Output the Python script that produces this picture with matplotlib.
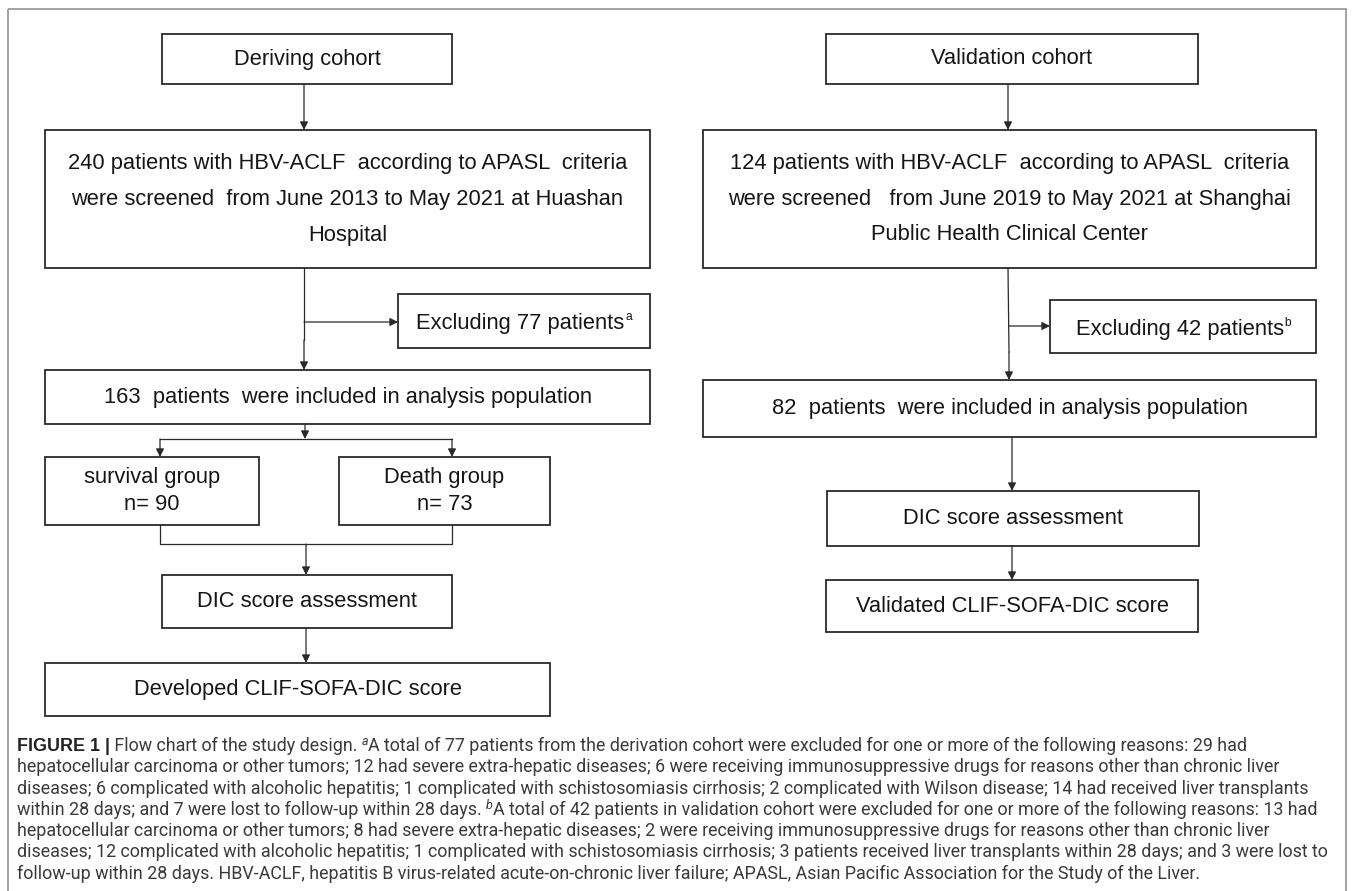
import matplotlib
matplotlib.use("Agg")
import matplotlib.pyplot as plt
from matplotlib.patches import Rectangle
from matplotlib import font_manager

W, H = 1357, 891

# ---- texts of the flow chart ----
deriving_title = "Deriving cohort"
deriving_screen = ["240 patients with HBV-ACLF  according to APASL  criteria",
                   "were screened  from June 2013 to May 2021 at Huashan",
                   "Hospital"]
deriving_excl = ("Excluding 77 patients", "a")
deriving_incl = "163  patients  were included in analysis population"
group_labels = ["survival group", "Death group"]
group_n = [90, 73]
dic_label = "DIC score assessment"
developed_label = "Developed CLIF-SOFA-DIC score"

valid_title = "Validation cohort"
valid_screen = ["124 patients with HBV-ACLF  according to APASL  criteria",
                "were screened   from June 2019 to May 2021 at Shanghai",
                "Public Health Clinical Center"]
valid_excl = ("Excluding 42 patients", "b")
valid_incl = "82  patients  were included in analysis population"
validated_label = "Validated CLIF-SOFA-DIC score"

caption_lines = [
    [("FIGURE 1 |", "b"), (" Flow chart of the study design. ", "r"), ("a", "s"),
     ("A total of 77 patients from the derivation cohort were excluded for one or more of the following reasons: 29 had", "r")],
    [("hepatocellular carcinoma or other tumors; 12 had severe extra-hepatic diseases; 6 were receiving immunosuppressive drugs for reasons other than chronic liver", "r")],
    [("diseases; 6 complicated with alcoholic hepatitis; 1 complicated with schistosomiasis cirrhosis; 2 complicated with Wilson disease; 14 had received liver transplants", "r")],
    [("within 28 days; and 7 were lost to follow-up within 28 days. ", "r"), ("b", "s"),
     ("A total of 42 patients in validation cohort were excluded for one or more of the following reasons: 13 had", "r")],
    [("hepatocellular carcinoma or other tumors; 8 had severe extra-hepatic diseases; 2 were receiving immunosuppressive drugs for reasons other than chronic liver", "r")],
    [("diseases; 12 complicated with alcoholic hepatitis; 1 complicated with schistosomiasis cirrhosis; 3 patients received liver transplants within 28 days; and 3 were lost to", "r")],
    [("follow-up within 28 days. HBV-ACLF, hepatitis B virus-related acute-on-chronic liver failure; APASL, Asian Pacific Association for the Study of the Liver.", "r")],
]


def pick_font(candidates):
    for fam in candidates:
        try:
            font_manager.findfont(font_manager.FontProperties(family=fam),
                                  fallback_to_default=False)
            return fam
        except Exception:
            pass
    return "DejaVu Sans"


BOX_FONT = [pick_font(["Liberation Sans Narrow", "Arial Narrow", "Liberation Sans"]), "DejaVu Sans"]
CAP_FONT = [pick_font(["Roboto", "Liberation Sans"]), "DejaVu Sans"]
BOLD_FONT = [pick_font(["Liberation Sans"]), "DejaVu Sans"]
EDGE = "#2a2a2a"
TXT = "#151515"
CAP_COL = "#3a3a3a"

fig = plt.figure(figsize=(W / 100, H / 100), dpi=100)
ax = fig.add_axes([0, 0, 1, 1])
ax.set_xlim(0, W)
ax.set_ylim(H, 0)
ax.axis("off")
renderer = fig.canvas.get_renderer()


def width_of(s, props):
    t = ax.text(0, 0, "|" + s + "|", **props)
    w = t.get_window_extent(renderer).width
    t.remove()
    t = ax.text(0, 0, "||", **props)
    w0 = t.get_window_extent(renderer).width
    t.remove()
    return w - w0


# font sizes chosen so the longest lines get the width they have in the figure
w10 = width_of(deriving_screen[0], dict(fontsize=10, family=BOX_FONT))
BOX_FS = 10 * 561 / w10
w10c = width_of(caption_lines[5][0][0], dict(fontsize=10, family=CAP_FONT))
CAP_FS = 10 * 1316 / w10c


def box(x0, y0, x1, y1):
    ax.add_patch(Rectangle((x0, y0), x1 - x0, y1 - y0, fill=False,
                           edgecolor=EDGE, linewidth=1.3))


def lines_in_box(x0, y0, x1, y1, lines, gap=36):
    cx = (x0 + x1) / 2
    cy = (y0 + y1) / 2
    n = len(lines)
    for i, s in enumerate(lines):
        ax.text(cx, cy + (i - (n - 1) / 2) * gap, s, ha="center", va="center",
                fontsize=BOX_FS, family=BOX_FONT, color=TXT)


def arrow(x0, y0, x1, y1):
    ax.annotate("", xy=(x1, y1), xytext=(x0, y0),
                arrowprops=dict(arrowstyle="-|>", color=EDGE, lw=0.9,
                                mutation_scale=12, shrinkA=0, shrinkB=0))


def line(xs, ys):
    ax.plot(xs, ys, color=EDGE, lw=0.9)


def excl_box(x0, y0, x1, y1, pair):
    main, sup = pair
    p = dict(fontsize=BOX_FS, family=BOX_FONT, color=TXT)
    ps = dict(fontsize=BOX_FS * 0.55, family=BOX_FONT, color=TXT)
    wm = width_of(main, p)
    ws = width_of(sup, ps)
    x = (x0 + x1) / 2 - (wm + ws) / 2
    yb = (y0 + y1) / 2 + 8
    ax.text(x, yb, main, ha="left", va="baseline", **p)
    ax.text(x + wm + 1, yb - 9, sup, ha="left", va="baseline", **ps)


# outer frame
ax.add_patch(Rectangle((8, 9), 1338, 900, fill=False, edgecolor="#8a8a8a", linewidth=1.1))

# ---- left column ----
box(162, 34, 452, 84)
lines_in_box(162, 34, 452, 84, [deriving_title])
arrow(304, 84, 304, 130)
box(45, 130, 650, 268)
lines_in_box(45, 130, 650, 268, deriving_screen)
line([304, 304], [268, 340])
arrow(304, 322, 398, 322)
box(398, 294, 650, 348)
excl_box(398, 294, 650, 348, deriving_excl)
arrow(304, 340, 304, 370)
box(45, 370, 650, 424)
lines_in_box(45, 370, 650, 424, [deriving_incl])
arrow(305, 424, 305, 439)
line([160, 452], [439, 439])
arrow(160, 439, 160, 457)
arrow(452, 439, 452, 457)
box(45, 457, 259, 525)
lines_in_box(45, 457, 259, 525, [group_labels[0], "n= %d" % group_n[0]], gap=28)
box(339, 457, 550, 525)
lines_in_box(339, 457, 550, 525, [group_labels[1], "n= %d" % group_n[1]], gap=28)
line([160, 160, 452, 452], [525, 544, 544, 525])
arrow(306, 544, 306, 575)
box(162, 575, 452, 628)
lines_in_box(162, 575, 452, 628, [dic_label])
arrow(306, 628, 306, 663)
box(45, 663, 550, 716)
lines_in_box(45, 663, 550, 716, [developed_label])

# ---- right column ----
box(826, 34, 1198, 84)
lines_in_box(826, 34, 1198, 84, [valid_title])
arrow(1008, 84, 1008, 130)
box(703, 130, 1316, 268)
lines_in_box(703, 130, 1316, 268, valid_screen)
line([1008, 1009], [268, 352])
arrow(1009, 326, 1050, 326)
box(1050, 300, 1316, 353)
excl_box(1050, 300, 1316, 353, valid_excl)
arrow(1009, 352, 1009, 380)
box(703, 380, 1316, 437)
lines_in_box(703, 380, 1316, 437, [valid_incl])
arrow(1012, 437, 1012, 491)
box(827, 491, 1199, 546)
lines_in_box(827, 491, 1199, 546, [dic_label])
arrow(1012, 546, 1012, 580)
box(826, 580, 1198, 632)
lines_in_box(826, 580, 1198, 632, [validated_label])

# ---- caption ----
styles = {
    "r": dict(fontsize=CAP_FS, family=CAP_FONT, color=CAP_COL),
    "b": dict(fontsize=CAP_FS, family=BOLD_FONT, color="#222222", weight="bold"),
    "s": dict(fontsize=CAP_FS * 0.7, family=CAP_FONT, color=CAP_COL, style="italic"),
}
y = 751
for parts in caption_lines:
    x = 17
    for s, k in parts:
        dy = -6 if k == "s" else 0
        ax.text(x, y + dy, s, ha="left", va="baseline", **styles[k])
        x += width_of(s, styles[k])
    y += 21.3

fig.savefig("out.png", dpi=100)
